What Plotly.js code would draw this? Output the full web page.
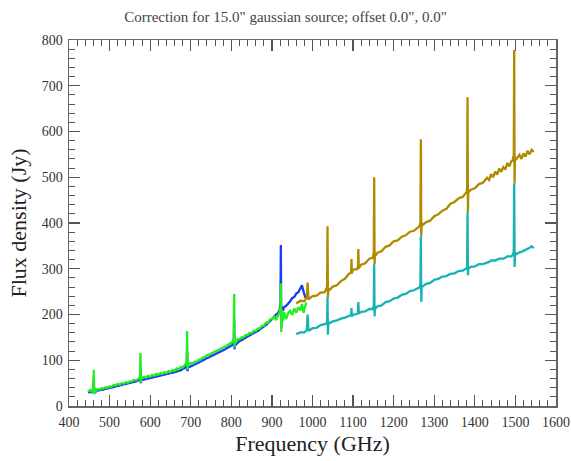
<!DOCTYPE html>
<html>
<head>
<meta charset="utf-8">
<script src="https://cdn.plot.ly/plotly-3.0.1.min.js"></script>
<style>html,body{margin:0;padding:0;background:#fff;}#chart{width:571px;height:461px;}</style>
</head>
<body>
<div id="chart"></div>
<script>
// Low-frequency bands (GHz) shared by blue and green series
var freqLow = [447,452,456,459,460,461,462,463,466,470,475,480,485,490,495,500,505,510,515,520,525,530,535,540,545,550,555,560,565,570,573,575,576,577,578,580,585,590,595,600,605,610,615,620,625,630,635,640,645,650,655,660,665,670,675,680,684,688,690,691,692,693,696,700,705,710,715,720,725,730,735,740,745,750,755,760,765,770,775,780,785,790,795,800,804,806,807,808,809,812,816,820,825,830,835,840,845,850,855,860,865,870,875,880,885,890,895,900,905,910,915,919,921,922,923,924,927,930,935,940,945,950,955,960,965,970,974,978,982,985];
var fluxBlue = [29,31,30,32,35,60,27,33,31,34,34,36,36,38,38,40,40,42,43,44,45,46,47,48,49,50,52,53,54,56,57,60,80,50,58,57,58,60,60,62,62,64,65,66,67,68,69,70,71,72,73,74,75,77,78,81,82,85,88,120,76,88,85,87,88,91,93,95,97,100,102,105,106,109,111,113,115,117,119,122,124,127,129,132,134,138,190,124,138,135,139,142,144,147,149,152,154,157,159,162,164,167,170,173,177,181,185,190,194,200,203,210,225,352,170,218,208,216,219,223,229,236,238,246,249,257,264,250,238,236];
var fluxGreen = [31,35,32,36,40,79,26,38,33,37,36,39,38,41,40,43,42,46,45,48,47,50,49,52,51,54,54,57,56,60,61,65,116,52,64,61,64,62,66,64,68,66,70,68,72,70,74,72,76,74,79,77,82,80,85,84,88,91,95,164,80,96,91,94,93,97,97,101,102,106,107,111,112,115,117,119,121,123,126,128,130,133,135,138,142,148,245,128,146,141,146,146,150,150,155,155,160,159,164,164,169,169,175,175,182,182,189,190,196,188,200,205,215,268,162,210,185,205,190,203,208,199,213,204,216,209,223,204,218,226];

// High-frequency bands (GHz) shared by gold and teal series
var freqHigh = [960,970,980,986,988,990,1000,1010,1020,1030,1035,1036,1037,1038,1039,1040,1050,1060,1070,1080,1090,1095,1096,1097,1100,1110,1112,1113,1114,1120,1130,1140,1148,1150,1151,1152,1153,1154,1156,1160,1170,1180,1190,1200,1210,1220,1230,1240,1250,1260,1263,1265,1266,1267,1268,1269,1271,1280,1290,1300,1310,1320,1330,1340,1350,1360,1370,1378,1380,1381,1382,1383,1384,1386,1390,1400,1410,1420,1430,1435,1440,1445,1450,1455,1460,1465,1470,1475,1480,1485,1490,1493,1495,1496,1497,1498,1499,1501,1505,1510,1515,1520,1525,1530,1535,1540,1545];
var fluxGold = [224,230,229,238,270,233,240,241,248,249,257,262,393,238,258,252,261,264,273,278,289,291,321,290,298,299,305,343,301,309,312,322,324,331,336,500,310,334,329,335,338,348,351,360,362,370,373,381,383,390,392,397,404,583,370,400,395,402,405,415,419,427,431,442,446,454,457,465,468,476,675,424,472,468,473,476,485,488,499,494,507,500,512,506,519,512,522,517,531,524,535,536,542,550,778,487,545,538,544,549,540,552,545,558,550,560,555];
var fluxTeal = [157,161,161,166,200,164,170,171,177,178,180,185,238,156,184,180,185,187,191,193,197,198,214,196,200,201,204,227,202,206,207,212,212,216,218,310,196,217,214,218,220,227,229,235,237,243,245,251,253,258,259,262,268,370,228,264,261,267,269,276,278,283,284,289,290,295,296,299,301,306,424,286,304,301,304,305,310,310,313,315,318,318,318,320,322,322,322,324,327,327,327,330,333,340,487,304,335,331,334,336,337,339,341,344,346,349,345];

var titleText = 'Correction for 15.0" gaussian source; offset 0.0", 0.0"';
var xTitle = 'Frequency (GHz)';
var yTitle = 'Flux density (Jy)';

var serif = 'Liberation Serif';

function tr(x, y, color) {
  return {x: x, y: y, type: 'scatter', mode: 'lines', hoverinfo: 'skip',
          line: {color: color, width: 2.3}, showlegend: false};
}

var data = [
  tr(freqLow, fluxBlue, '#1a3ef0'),
  tr(freqLow, fluxGreen, '#22ee22'),
  tr(freqHigh, fluxGold, '#b08a00'),
  tr(freqHigh, fluxTeal, '#18b2b2')
];

function axis(range, dtick, minorDtick, titleText, standoff, labelOff) {
  return {
    range: range, dtick: dtick, tick0: 0, ticks: 'inside', ticklen: 11, tickwidth: 1.3,
    tickcolor: '#555', showline: true, linecolor: '#666', linewidth: 1.5, mirror: 'allticks',
    showgrid: false, zeroline: false, ticklabelstandoff: labelOff,
    minor: {dtick: minorDtick, ticks: 'inside', ticklen: 6, tickcolor: '#555', tickwidth: 1, showgrid: false},
    tickfont: {family: serif, size: 14, color: '#333'},
    title: {text: titleText, font: {family: serif, size: 22, color: '#222'}, standoff: standoff}
  };
}

var layout = {
  width: 571, height: 461,
  margin: {l: 69, r: 15, t: 40, b: 55},
  paper_bgcolor: '#fff', plot_bgcolor: '#fff',
  font: {family: serif},
  title: {text: titleText, font: {family: serif, size: 15, color: '#444'},
          x: 0.5, xref: 'container', y: 0.963, yref: 'container', yanchor: 'middle'},
  xaxis: axis([400, 1600], 100, 20, xTitle, 6, 3),
  yaxis: axis([0, 800], 100, 20, yTitle, 9, 2)
};

Plotly.newPlot('chart', data, layout, {staticPlot: true, displayModeBar: false});
</script>
</body>
</html>
